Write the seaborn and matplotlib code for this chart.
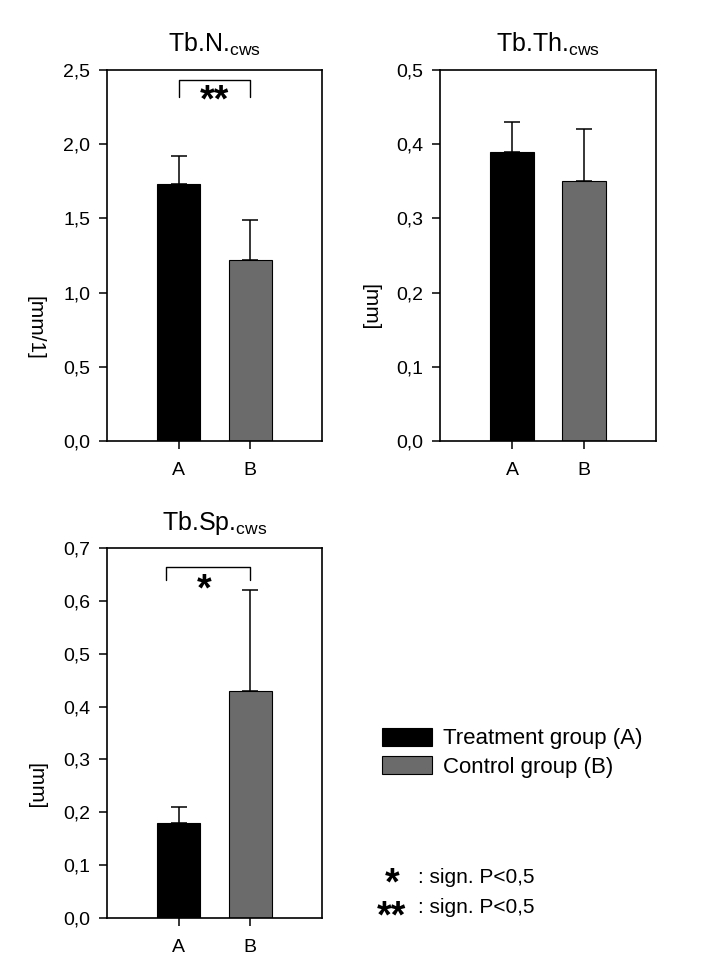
import pandas as pd
import matplotlib
matplotlib.use("Agg")
import matplotlib.pyplot as plt
import seaborn as sns
from matplotlib.patches import Patch

# -----------------------------
# Data
# -----------------------------
groups = ["A", "B"]
tbn_mean = [1.73, 1.22]
tbn_err = [0.19, 0.27]
tbth_mean = [0.39, 0.35]
tbth_err = [0.04, 0.07]
tbsp_mean = [0.18, 0.43]
tbsp_err = [0.03, 0.19]

colors = ["#000000", "#6b6b6b"]
legend_labels = ["Treatment group (A)", "Control group (B)"]

sns.set_style("ticks")
plt.rcParams["font.family"] = ["Liberation Sans", "DejaVu Sans"]
plt.rcParams["mathtext.fontset"] = "custom"
plt.rcParams["mathtext.rm"] = "Liberation Sans"
for key in ["text.color", "axes.labelcolor", "xtick.color", "ytick.color", "axes.edgecolor"]:
    plt.rcParams[key] = "black"

W, H = 701, 971
fig = plt.figure(figsize=(W / 100, H / 100), dpi=100)


def make_axes(left, top, right, bottom):
    return fig.add_axes([left / W, 1 - bottom / H, (right - left) / W, (bottom - top) / H])


def panel(ax, means, errs, title, ylabel, ymax, step, label_xy):
    df = pd.DataFrame({"group": groups, "value": means})
    sns.barplot(data=df, x="group", y="value", hue="group", palette=colors,
                width=0.6, edgecolor="black", linewidth=0.8, legend=False, ax=ax)
    ax.errorbar([0, 1], means, yerr=[[0, 0], errs], fmt="none", ecolor="black",
                elinewidth=1.1, capsize=6, capthick=1.1)
    ax.set_xlim(-1, 2)
    ax.set_ylim(0, ymax)
    ticks = [i * step for i in range(int(round(ymax / step)) + 1)]
    ax.set_yticks(ticks)
    ax.set_yticklabels(["{:.1f}".format(t).replace(".", ",") for t in ticks])
    ax.set_xlabel("")
    ax.set_ylabel(ylabel, fontsize=15, rotation=270, va="center", ha="center")
    ax.yaxis.set_label_coords(*label_xy)
    ax.set_title(title, fontsize=18, pad=13)
    ax.tick_params(axis="y", labelsize=14, length=6, width=1.1, pad=6)
    ax.tick_params(axis="x", labelsize=14, length=6, width=1.1, pad=9)
    for s in ax.spines.values():
        s.set_linewidth(1.2)
        s.set_visible(True)


def bracket(ax, x0, x1, y_top, y_leg, stars, star_x, star_y):
    ax.plot([x0, x0, x1, x1], [y_leg, y_top, y_top, y_leg], color="black", lw=1.0)
    ax.text(star_x, star_y, stars, ha="center", va="baseline",
            fontsize=27, fontweight="bold")


ax1 = make_axes(107, 70, 322, 441)
panel(ax1, tbn_mean, tbn_err, r"Tb.N.$_\mathregular{cws}$", "[mm/1]", 2.5, 0.5, (-0.335, 0.305))
bracket(ax1, 0, 1, 2.43, 2.32, "**", 0.5, 2.22)

ax2 = make_axes(440, 70, 656, 441)
panel(ax2, tbth_mean, tbth_err, r"Tb.Th.$_\mathregular{cws}$", "[mm]", 0.5, 0.1, (-0.324, 0.361))

ax3 = make_axes(107, 548, 322, 918)
panel(ax3, tbsp_mean, tbsp_err, r"Tb.Sp.$_\mathregular{cws}$", "[mm]", 0.7, 0.1, (-0.33, 0.357))
bracket(ax3, -0.17, 1, 0.664, 0.64, "*", 0.35, 0.600)

handles = [Patch(facecolor=c, edgecolor="black", linewidth=0.8) for c in colors]
fig.legend(handles, legend_labels, loc="upper left", bbox_to_anchor=(364 / W, 1 - 710 / H),
           frameon=False, fontsize=16, handlelength=2.25, handleheight=0.86,
           handletextpad=0.5, labelspacing=0.3, borderpad=0.3)

fig.text(392 / W, 1 - 894 / H, "*", ha="center", va="baseline", fontsize=27, fontweight="bold")
fig.text(418 / W, 1 - 877 / H, ": sign. P<0,5", ha="left", va="center", fontsize=15)
fig.text(391 / W, 1 - 927 / H, "**", ha="center", va="baseline", fontsize=27, fontweight="bold")
fig.text(418 / W, 1 - 907 / H, ": sign. P<0,5", ha="left", va="center", fontsize=15)

fig.savefig("out.png", dpi=100)
